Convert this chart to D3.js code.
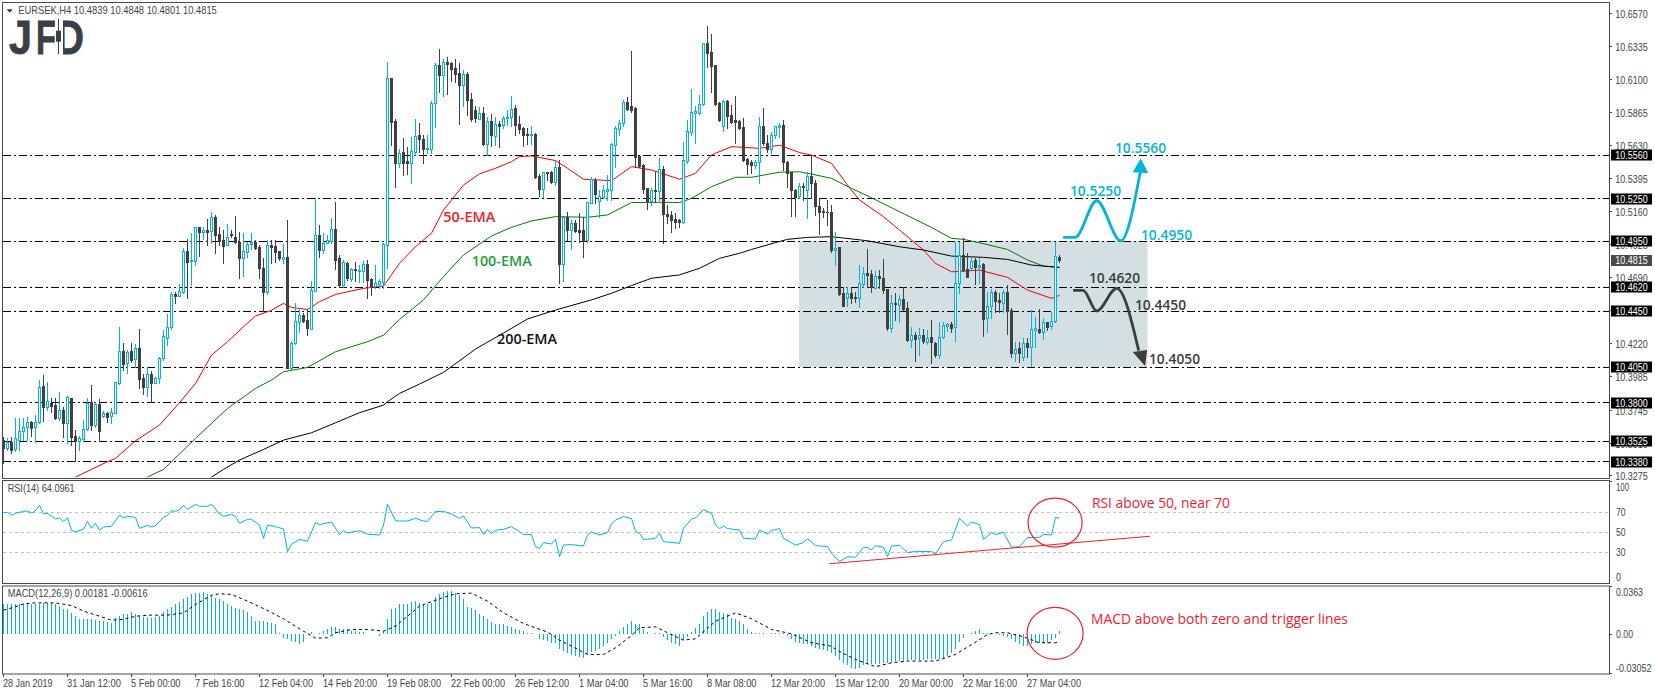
<!DOCTYPE html>
<html><head><meta charset="utf-8">
<style>html,body{margin:0;padding:0;background:#fff}svg{display:block}</style>
<script src="https://cdn.jsdelivr.net/npm/d3@7"></script></head><body><div id="c"></div>
<script>
// Prices and MACD values are in pips: price = 10 + pips / 10000, MACD = pips / 10000.
const OPEN=[3533,3476,3519,3467,3533,3595,3623,3664,3623,3659,3917,3766,3799,3782,3687,3744,3656,3832,3561,3528,3540,3609,3801,3640,3787,3706,3725,3706,3728,3941,4164,4079,4169,4112,4188,3972,3913,4000,3941,3972,4114,4262,4335,4572,4560,4589,4878,4805,4810,5047,5016,5028,5023,5123,4997,4957,4921,5000,4976,4943,4831,4874,4926,4943,4905,4757,4584,4921,4914,4878,4824,4836,4048,4221,4375,4423,4387,4326,4596,4992,4886,4938,4952,5033,4826,4639,4795,4679,4748,4741,4738,4784,4677,4632,4646,4660,4924,6108,5807,5503,5584,5523,5508,5587,5705,5677,5603,5608,5931,6201,6132,6223,6220,6185,6144,6061,6142,5959,5883,5822,5862,5639,5805,5701,5784,5777,5824,5831,5895,5784,5758,5712,5708,5712,5413,5321,5442,5442,5371,5477,4787,5119,5029,5081,5029,5029,4958,5224,5385,5235,5266,5309,5314,5637,5750,5793,5943,5912,5895,5556,5494,5326,5235,5314,5309,5463,5143,5136,5105,5100,5088,5523,5729,5862,5864,5926,6358,6294,6204,5933,5772,5947,5848,5812,5807,5760,5532,5511,5492,5515,5767,5651,5606,5705,5765,5777,5513,5441,5313,5270,5341,5313,5415,5365,5199,5166,5159,5159,4886,4905,4577,4546,4582,4554,4546,4644,4720,4713,4618,4701,4684,4606,4333,4506,4494,4537,4470,4245,4281,4262,4281,4228,4264,4226,4138,4264,4345,4359,4335,4648,4850,4748,4755,4815,4767,4784,4399,4489,4589,4530,4511,4584,4459,4155,4186,4126,4221,4198,4316,4323,4304,4375,4347,4380,4839];
const HIGH=[3557,3545,3552,3687,3687,3692,3694,3671,3711,3960,3993,3943,3830,3830,3872,3770,3849,3834,3604,3561,3675,3830,3925,3806,3825,3742,3735,3758,3943,4335,4221,4174,4221,4216,4323,4003,4050,4022,3984,4126,4316,4430,4589,4589,4644,4897,4962,5004,5047,5052,5047,5104,5156,5135,5052,5028,5071,5028,5128,5016,5004,4945,5004,4957,4921,4826,4957,4957,4957,4881,4928,5099,4238,4511,4470,4435,4463,4665,5253,5064,5004,4992,5111,5225,4850,4814,4803,4755,4803,4779,4807,4814,4689,4779,4677,4938,6225,6108,5819,5605,5682,5618,5693,5819,5788,5705,5705,5950,6215,6318,6244,6258,6227,6244,6215,6168,6156,6007,5912,5902,5907,5836,5855,5836,5807,5843,5883,5983,5919,5841,5765,5753,5769,5722,5428,5444,5444,5451,5523,5527,5124,5159,5100,5100,5152,5119,5231,5404,5397,5314,5349,5421,5651,5769,5812,5954,5978,6303,5902,5563,5499,5326,5326,5444,5539,5485,5207,5167,5148,5105,5658,5812,6030,5912,5990,6363,6481,6424,6204,5943,5954,5954,5919,5983,5812,5824,5539,5527,5527,5831,5895,5705,5729,5769,5793,5812,5517,5441,5318,5360,5365,5443,5562,5384,5254,5182,5242,5206,5016,4909,4625,4620,4613,4584,4779,4767,4893,4743,4739,4743,4819,4606,4565,4577,4565,4625,4518,4340,4304,4328,4321,4316,4387,4233,4375,4375,4368,4375,4945,4945,4969,4867,4826,4826,4826,4796,4584,4606,4601,4577,4601,4637,4470,4233,4233,4257,4257,4459,4411,4466,4399,4375,4447,4940,4848];
const LOW=[3367,3462,3443,3457,3462,3533,3533,3561,3519,3652,3671,3747,3735,3685,3675,3557,3509,3497,3386,3462,3528,3604,3604,3628,3528,3694,3664,3652,3723,3932,4031,4012,4091,4055,3901,3860,3846,3804,3936,3936,4103,4209,4321,4511,4558,4577,4546,4636,4779,4843,4964,4921,4933,4867,4921,4791,4921,4981,4938,4689,4703,4838,4890,4890,4684,4451,4572,4795,4803,4814,4791,4048,4038,4216,4304,4375,4280,4323,4591,4838,4862,4933,4933,4748,4625,4620,4672,4667,4667,4660,4660,4546,4565,4613,4613,4613,4755,5634,5337,5477,5421,5428,5366,5563,5587,5508,5575,5580,5760,6014,5983,5997,6092,6085,5784,5912,5848,5807,5800,5817,5634,5563,5627,5634,5622,5753,5777,5769,5705,5717,5627,5641,5641,5397,5271,5262,5385,5361,5349,4654,4668,4958,4894,5017,4946,4839,4946,5219,5219,5124,5254,5243,5243,5480,5705,5769,5883,5871,5480,5475,5290,5179,5207,5231,5243,4934,5081,5017,5041,5053,5076,5504,5705,5646,5855,5919,6192,6014,5919,5807,5736,5753,5788,5651,5746,5523,5428,5432,5468,5361,5634,5587,5575,5682,5693,5456,5334,5128,5128,5254,5242,5111,5254,5135,5000,5118,5064,4874,4779,4565,4487,4487,4506,4518,4482,4625,4625,4589,4613,4613,4577,4316,4304,4387,4375,4459,4240,4198,4098,4138,4221,4217,4084,4126,4114,4257,4309,4304,4240,4577,4739,4696,4743,4644,4648,4273,4300,4399,4447,4447,4447,4288,4126,4098,4091,4103,4126,4060,4198,4292,4250,4316,4323,4375,4801];
const CLOSE=[3474,3519,3462,3545,3597,3623,3659,3621,3659,3908,3770,3808,3777,3687,3744,3656,3837,3557,3528,3545,3609,3794,3637,3789,3599,3723,3699,3730,3943,4164,4074,4160,4105,4186,3970,3913,4000,3941,3972,4114,4273,4335,4572,4560,4594,4876,4803,4812,5047,5011,5028,5016,5118,4992,4952,4916,4976,4995,4943,4831,4876,4928,4943,4902,4755,4589,4921,4909,4874,4829,4836,4048,4221,4378,4421,4383,4328,4598,4992,4886,4938,4957,5033,4814,4636,4798,4684,4748,4741,4743,4784,4672,4629,4648,4663,4928,6108,5800,5503,5574,5508,5508,5591,5698,5674,5603,5610,5933,6201,6132,6223,6213,6175,6137,6061,6137,5954,5817,5824,5860,5639,5805,5705,5781,5772,5826,5836,5890,5777,5748,5705,5708,5712,5409,5321,5442,5437,5373,5477,4787,5119,5029,5076,5022,5017,4953,5226,5390,5283,5271,5314,5321,5641,5755,5788,5940,5888,5883,5551,5485,5321,5235,5314,5309,5461,5143,5129,5100,5086,5086,5525,5731,5867,5874,5926,6358,6287,6199,5926,5812,5947,5841,5800,5798,5758,5527,5501,5492,5515,5767,5646,5606,5705,5767,5774,5513,5434,5313,5265,5341,5332,5413,5360,5199,5159,5154,5154,4886,4900,4572,4487,4577,4546,4546,4648,4720,4708,4620,4701,4684,4601,4333,4506,4499,4537,4463,4245,4281,4250,4281,4240,4257,4228,4138,4264,4349,4357,4328,4648,4850,4743,4696,4810,4767,4779,4395,4489,4584,4525,4513,4584,4451,4155,4179,4150,4221,4198,4321,4328,4304,4373,4340,4380,4843,4815];
const EMA50_BARS=[18,22,26,28,33,39,44,48,52,56,60,63,67,70,72,76,79,83,90,95,99,103,107,110,115,119,123,127,129,132,138,141,145,152,157,162,169,173,177,182,189,194,199,202,207,211,214,220,224,230,233,237,244,251,256,262,264];
const EMA50=[3270,3324,3379,3402,3528,3640,3799,3936,4138,4233,4340,4416,4458,4506,4477,4463,4518,4570,4613,4629,4791,4910,5005,5171,5349,5428,5468,5515,5551,5556,5523,5468,5390,5380,5480,5456,5390,5432,5563,5622,5610,5632,5580,5562,5503,5348,5242,5123,5028,4886,4791,4731,4743,4691,4601,4542,4563];
const EMA100_BARS=[36,40,42,48,56,63,67,70,76,83,91,95,99,105,110,115,122,127,132,138,146,151,157,165,169,172,177,183,187,194,199,202,207,212,217,224,232,237,240,244,251,256,260,264];
const EMA100=[3270,3324,3379,3545,3758,3901,3960,4019,4050,4162,4233,4280,4392,4531,4697,4851,4986,5048,5093,5124,5119,5136,5224,5226,5224,5254,5337,5404,5404,5440,5443,5427,5396,5325,5258,5159,5047,4969,4962,4938,4890,4815,4772,4762];
const EMA200_BARS=[52,55,59,65,70,77,83,89,95,96,99,104,110,118,125,131,138,147,152,157,162,169,174,179,184,187,193,196,201,207,216,224,230,237,245,251,257,264];
const EMA200=[3270,3324,3391,3466,3533,3585,3656,3728,3782,3806,3865,3932,4015,4181,4295,4395,4459,4531,4578,4633,4685,4709,4756,4827,4863,4890,4939,4962,4976,4981,4952,4909,4886,4843,4834,4819,4779,4762];
const RSI_BARS=[0,1,2,3,5,6,7,8,9,10,11,13,14,15,16,17,18,20,21,22,23,24,25,27,29,30,31,33,34,36,37,38,40,41,42,43,44,45,46,48,49,51,52,54,55,57,58,59,61,62,64,65,66,68,70,71,72,74,76,78,79,82,84,85,86,89,91,94,95,96,98,99,101,103,105,106,108,110,112,114,115,117,119,120,121,122,123,125,127,129,130,132,133,134,135,137,138,139,140,142,145,146,147,149,151,152,153,155,157,158,159,160,161,163,164,165,169,170,172,173,175,177,178,179,180,181,184,185,188,189,191,192,194,195,198,200,201,203,206,207,209,211,213,215,216,217,218,220,221,222,224,226,228,232,233,235,237,239,241,242,244,245,247,248,250,252,254,256,259,260,262,263,264];
const RSI=[69.7,70,67,69,71,71.3,69.3,71.7,77,68.3,69,63.3,64.3,60.7,64.7,52,50.7,53,61,54,59,52,55.3,56,67.3,64.3,66,65,54,57,55.3,56.7,65,67,71.7,71,72.3,77,73,78,76,76,78,68.3,66,68,66,59,63,63,57.3,44,57.3,55.7,53.3,30.7,38,43,41,59.7,57.7,60.3,47.7,51.7,49.3,51.7,48,47.3,57.3,78,61.7,61.3,61.3,64,61.3,61,70.7,71,68.3,64,66.3,54.3,54.7,48,53,49,52,53,55.7,50.7,47.7,47.7,35.7,33.7,39.7,38.3,43,25.7,37.3,37.7,36.3,47.3,50.3,47.3,49.7,58.3,62.3,65.7,63.7,51,49,43,43,44,49,40.7,39,54,63.3,64.3,72.7,69,57.3,53.7,56.3,53.7,52.3,44,43.3,52.3,48.3,51.7,53.7,44,37.3,39.7,43.7,36.7,35.7,29,20.6,25.6,25,35,34.7,32.3,36.7,35,25.7,36.3,37,29.7,31,30.7,28.3,40.7,42.3,64,56.3,60.3,57.7,43,49.7,47.7,50,35,35.7,44.7,45,48,47.3,65,64.1];
const MACD_HIST=[223,230,230,230,230,230,228,230,230,230,235,235,235,223,210,190,185,159,139,114,114,109,109,106,96,94,89,83,121,134,154,154,164,147,134,129,126,121,126,134,164,185,205,223,240,261,278,299,311,311,316,299,286,271,261,248,230,210,197,185,180,164,139,101,101,101,91,83,71,8,-30,-38,-56,-63,-81,-63,-5,15,-5,3,20,33,53,53,38,38,33,20,20,13,13,0,-3,-3,-13,20,114,185,197,223,223,223,240,248,235,230,223,235,281,299,316,324,324,311,296,261,205,197,180,147,134,109,89,78,71,71,63,53,38,28,20,8,3,0,-38,-48,-56,-68,-68,-119,-132,-149,-164,-170,-175,-185,-157,-139,-132,-114,-94,-73,-38,-13,20,53,78,101,78,71,38,13,0,3,3,-23,-48,-68,-76,-89,-48,-23,13,46,78,134,167,190,185,164,159,147,121,109,101,71,38,13,8,8,3,-5,3,8,8,3,-13,-43,-63,-68,-81,-81,-94,-106,-114,-124,-132,-149,-170,-200,-220,-240,-258,-266,-258,-240,-233,-233,-230,-228,-225,-220,-215,-210,-207,-205,-200,-200,-200,-200,-197,-195,-195,-195,-190,-182,-170,-149,-119,-63,-30,-5,3,20,33,8,3,0,-5,-8,-13,-23,-43,-63,-81,-89,-94,-81,-73,-73,-73,-68,-48,-30,18];
const SIGNAL_BARS=[0,3,5,8,13,17,20,24,27,30,33,37,41,45,48,52,54,57,61,66,70,75,78,81,83,87,91,95,98,104,109,113,117,121,125,130,136,137,139,143,146,150,153,157,159,163,166,170,173,178,183,187,192,197,202,207,208,213,218,222,226,233,238,243,246,248,251,255,259,263,264];
const SIGNAL=[180,205,228,235,235,215,172,134,104,109,134,142,142,159,223,293,304,299,248,177,114,20,-33,-30,8,33,33,20,58,210,266,304,309,248,159,78,13,-5,-48,-109,-157,-157,-106,-13,46,53,8,-48,-38,96,159,114,33,0,-68,-94,-119,-195,-250,-220,-207,-207,-157,-63,-5,8,8,-23,-68,-68,-62];
const LEVELS=[5560,5250,4950,4620,4450,4050,3800,3525,3380];
const PRICE_TICKS=[6570,6335,6100,5865,5630,5395,5160,4925,4690,4455,4220,3985,3745,3510,3275];
const LAST_PRICE=4815;
const RSI_TICKS=[70,50,30];
const TIME_LABELS=["28 Jan 2019","31 Jan 12:00","5 Feb 00:00","7 Feb 16:00","12 Feb 04:00","14 Feb 20:00","19 Feb 08:00","22 Feb 00:00","26 Feb 12:00","1 Mar 04:00","5 Mar 16:00","8 Mar 08:00","12 Mar 20:00","15 Mar 12:00","20 Mar 00:00","22 Mar 16:00","27 Mar 04:00"];
const BOX_BARS=[198.9,286], BOX_PRICES=[4950,4050];
const BLUE_ARROW_BARS=[264.9,267.9,273.3,279.3,284.2], BLUE_ARROW_PRICES=[4976,4976,5237,4952,5441];
const BLUE_HEAD_BARS=[282.3,284.3,286.2], BLUE_HEAD_PRICES=[5439,5539,5432];
const DARK_ARROW_BARS=[267.4,269.9,273.3,278.3,283.8], DARK_ARROW_PRICES=[4599,4599,4452,4613,4170];
const DARK_HEAD_BARS=[282.3,285.4,285.9], DARK_HEAD_PRICES=[4160,4060,4174];
const RSI_TREND_BARS=[206.4,286.6], RSI_TREND=[18.6,46];

const W=1655,H=695;
const CYAN="#00b4dc",DARK="#404040",FRAME="#4a4a4a",RED="#f0202e",TXT="#3c4650";
const svg=d3.select("#c").append("svg").attr("width",W).attr("height",H);
const N=OPEN.length;
const x=d3.scaleLinear().domain([0,264]).range([3.5,1059.5]);
const yP=d3.scaleLinear().domain([3275,6570]).range([476.3,13.5]);
const yR=d3.scaleLinear().domain([0,100]).range([582.3,482.3]);
const yM=d3.scaleLinear().domain([-305.2,363]).range([674,586]);
const sn=v=>Math.round(v-0.5)+0.5;

const defs=svg.append("defs");
defs.append("clipPath").attr("id","cp").append("rect").attr("x",3).attr("y",3).attr("width",1606).attr("height",475);
defs.append("clipPath").attr("id","cr").append("rect").attr("x",3).attr("y",481).attr("width",1606).attr("height",102);
defs.append("clipPath").attr("id","cm").append("rect").attr("x",3).attr("y",586).attr("width",1606).attr("height",88);

// ---------- price panel ----------
const gP=svg.append("g").attr("clip-path","url(#cp)");
gP.append("rect").attr("x",x(BOX_BARS[0])).attr("width",x(BOX_BARS[1])-x(BOX_BARS[0]))
  .attr("y",yP(BOX_PRICES[0])).attr("height",yP(BOX_PRICES[1])-yP(BOX_PRICES[0])).attr("fill","#d3dfe3");
gP.selectAll("line.lvl").data(LEVELS).join("line").attr("x1",3).attr("x2",1609)
  .attr("y1",d=>sn(yP(d))).attr("y2",d=>sn(yP(d))).attr("stroke","#000").attr("stroke-width",1).attr("stroke-dasharray","8,3,2,3");
const emaLine=(bars)=>d3.line().x((d,i)=>x(bars[i])).y(d=>yP(d));
[[EMA50_BARS,EMA50,"#f00000"],[EMA100_BARS,EMA100,"#007a00"],[EMA200_BARS,EMA200,"#000"]].forEach(([b,v,c])=>{
  gP.append("path").attr("d",emaLine(b)(v)).attr("fill","none").attr("stroke",c).attr("stroke-width",1);
});
const idx=d3.range(N);
gP.selectAll("line.w").data(idx).join("line").attr("x1",i=>x(i)).attr("x2",i=>x(i))
  .attr("y1",i=>Math.round(yP(HIGH[i]))).attr("y2",i=>Math.round(yP(LOW[i]))+1)
  .attr("stroke",i=>CLOSE[i]>=OPEN[i]?CYAN:DARK).attr("stroke-width",1);
gP.selectAll("rect.b").data(idx).join("rect").attr("shape-rendering","crispEdges")
  .attr("x",i=>CLOSE[i]>=OPEN[i]?x(i)-1:x(i)-1.5)
  .attr("width",i=>CLOSE[i]>=OPEN[i]?2:3)
  .attr("y",i=>{const t=Math.round(yP(Math.max(OPEN[i],CLOSE[i])));return CLOSE[i]>=OPEN[i]?t+0.5:t;})
  .attr("height",i=>{const t=Math.round(yP(Math.max(OPEN[i],CLOSE[i]))),b=Math.round(yP(Math.min(OPEN[i],CLOSE[i])));return Math.max(1,b-t+(CLOSE[i]>=OPEN[i]?0:1));})
  .attr("fill",i=>CLOSE[i]>=OPEN[i]?"#fff":DARK)
  .attr("stroke",i=>CLOSE[i]>=OPEN[i]?CYAN:"none").attr("stroke-width",1);

// annotations
const arrowLine=d3.line().x(d=>x(d[0])).y(d=>yP(d[1])).curve(d3.curveMonotoneX);
const zip=(a,b)=>a.map((v,i)=>[v,b[i]]);
gP.append("path").attr("d",arrowLine(zip(BLUE_ARROW_BARS,BLUE_ARROW_PRICES))).attr("fill","none").attr("stroke",CYAN).attr("stroke-width",2.8);
gP.append("path").attr("d","M"+zip(BLUE_HEAD_BARS,BLUE_HEAD_PRICES).map(d=>[x(d[0]),yP(d[1])].join(",")).join("L")+"Z").attr("fill",CYAN);
gP.append("path").attr("d",arrowLine(zip(DARK_ARROW_BARS,DARK_ARROW_PRICES))).attr("fill","none").attr("stroke","#3c3c3c").attr("stroke-width",2.8);
gP.append("path").attr("d","M"+zip(DARK_HEAD_BARS,DARK_HEAD_PRICES).map(d=>[x(d[0]),yP(d[1])].join(",")).join("L")+"Z").attr("fill","#3c3c3c");

const note=(t,px,py,c,w)=>svg.append("text").text(t).attr("x",px).attr("y",py).attr("fill",c)
  .attr("font-family","'Open Sans'").attr("font-size",13.5).attr("font-weight",600).attr("textLength",w).attr("lengthAdjust","spacingAndGlyphs");
note("10.5560",1115,152.7,CYAN,51);
note("10.5250",1070,195.7,CYAN,51);
note("10.4950",1141,239.5,CYAN,51);
note("10.4620",1089,283,"#3c3c3c",51);
note("10.4450",1135,310,"#3c3c3c",51);
note("10.4050",1149,364,"#3c3c3c",51);
note("50-EMA",443.3,222.3,"#ed1c2e",52);
note("100-EMA",471.7,265.7,"#22a03c",60);
note("200-EMA",497,343.5,"#111",60);

// ---------- RSI panel ----------
const gR=svg.append("g").attr("clip-path","url(#cr)");
gR.selectAll("line.l").data(RSI_TICKS).join("line").attr("x1",3).attr("x2",1609)
  .attr("y1",d=>sn(yR(d))).attr("y2",d=>sn(yR(d))).attr("stroke","#c0c0c0").attr("stroke-dasharray","3,3");
gR.append("path").attr("d",d3.line().x((d,i)=>x(RSI_BARS[i])).y(d=>yR(d))(RSI)).attr("fill","none").attr("stroke",CYAN).attr("stroke-width",1);
gR.append("line").attr("x1",x(RSI_TREND_BARS[0])).attr("x2",x(RSI_TREND_BARS[1])).attr("y1",yR(RSI_TREND[0])).attr("y2",yR(RSI_TREND[1])).attr("stroke",RED).attr("stroke-width",1.1);
const ring=(b,yy,rx,ry,g)=>g.append("ellipse").attr("cx",x(b)).attr("cy",yy).attr("rx",rx).attr("ry",ry).attr("fill","none").attr("stroke",RED).attr("stroke-width",1.2);
ring(262.9,522.7,27,24.5,gR);

// ---------- MACD panel ----------
const gM=svg.append("g").attr("clip-path","url(#cm)");
gM.selectAll("line.h").data(idx).join("line").attr("x1",i=>x(i)).attr("x2",i=>x(i))
  .attr("y1",i=>Math.round(yM(0))).attr("y2",i=>Math.round(yM(MACD_HIST[i])))
  .attr("stroke",CYAN).attr("stroke-width",1);
gM.append("path").attr("d",d3.line().x((d,i)=>x(SIGNAL_BARS[i])).y(d=>yM(d))(SIGNAL)).attr("fill","none").attr("stroke","#000").attr("stroke-width",1).attr("stroke-dasharray","3,3");
ring(262.9,633.3,28,26,gM);

svg.append("text").text("RSI above 50, near 70").attr("x",1092).attr("y",508).attr("fill",RED).attr("font-family","'Open Sans'").attr("font-size",14).attr("textLength",138).attr("lengthAdjust","spacingAndGlyphs");
svg.append("text").text("MACD above both zero and trigger lines").attr("x",1091).attr("y",624).attr("fill",RED).attr("font-family","'Open Sans'").attr("font-size",14).attr("textLength",257).attr("lengthAdjust","spacingAndGlyphs");

// ---------- frames ----------
[[2.5,2.5,478.5],[2.5,480.5,583.5],[2.5,586,674]].forEach(([l,t,b])=>{
  svg.append("rect").attr("x",l).attr("y",t).attr("width",1609.5-l).attr("height",b-t).attr("fill","none").attr("stroke",FRAME).attr("stroke-width",1);
});
const axisTxt=(g,t,px,py,w,fill)=>g.append("text").text(t).attr("x",px).attr("y",py).attr("fill",fill||TXT)
  .attr("font-family","'Liberation Sans'").attr("font-size",11).attr("textLength",w).attr("lengthAdjust","spacingAndGlyphs");

// ---------- right axis ----------
const gA=svg.append("g");
PRICE_TICKS.forEach(p=>{
  const yy=sn(yP(p));
  gA.append("line").attr("x1",1610).attr("x2",1612).attr("y1",Math.min(yy,475.5)).attr("y2",Math.min(yy,475.5)).attr("stroke",FRAME);
  axisTxt(gA,(10+p/1e4).toFixed(4),1615.3,Math.min(yy,475.5)+4,32.5);
});
LEVELS.forEach(p=>{
  const yy=yP(p);
  gA.append("rect").attr("x",1611).attr("y",Math.round(yy)-5.5).attr("width",41).attr("height",11).attr("fill","#000");
  axisTxt(gA,(10+p/1e4).toFixed(4),1615.3,Math.round(yy)+3.5,32.5,"#fff");
});
gA.append("rect").attr("x",1611).attr("y",Math.round(yP(LAST_PRICE))-5).attr("width",41).attr("height",11).attr("fill","#4a4a4a");
axisTxt(gA,(10+LAST_PRICE/1e4).toFixed(4),1615.3,Math.round(yP(LAST_PRICE))+4,32.5,"#fff");

[[100,487.3,"100",13],[70,512.3,"70",9.5],[50,532.3,"50",9.5],[30,552.3,"30",9.5],[0,576.7,"0",5]].forEach(([v,yy,t,w])=>axisTxt(gA,t,1616,yy+4,w));
gA.append("line").attr("x1",1610).attr("x2",1612).attr("y1",481.5).attr("y2",481.5).attr("stroke",FRAME);
[[592.3,"0.0363",27],[634,"0.00",17],[667.7,"-0.03052",35.5]].forEach(([yy,t,w])=>axisTxt(gA,t,1616,yy+4,w));
[586.5,634.5,673.5].forEach(yy=>gA.append("line").attr("x1",1610).attr("x2",1612).attr("y1",yy).attr("y2",yy).attr("stroke",FRAME));

// ---------- time axis ----------
TIME_LABELS.forEach((t,i)=>{
  const b=i*16,px=sn(x(b));
  gA.append("line").attr("x1",px).attr("x2",px).attr("y1",674).attr("y2",677).attr("stroke",FRAME);
  axisTxt(gA,t,px-0.5,687,t.length*54/12);
});

// ---------- titles ----------
gA.append("path").attr("d",d3.line()([[6.7,9.3],[12.7,9.3],[9.7,12.7]])+"Z").attr("fill","#333");
axisTxt(gA,"EURSEK,H4  10.4839 10.4848 10.4801 10.4815",18.3,14,198.5);
axisTxt(gA,"RSI(14) 64.0961",7.7,492,67);
axisTxt(gA,"MACD(12,26,9) 0.00181 -0.00616",7.7,597,140);

// ---------- logo ----------
const logo=svg.append("g");
const letter=(t,px,w)=>logo.append("text").text(t).attr("x",px).attr("y",54).attr("fill","#3a3f47").attr("stroke","#3a3f47").attr("stroke-width",0.8)
  .attr("font-family","'Liberation Sans'").attr("font-weight",700).attr("font-size",48).attr("textLength",w).attr("lengthAdjust","spacingAndGlyphs");
letter("J",9,23);
letter("F",36,20);
letter("D",56,28);
logo.append("rect").attr("x",55).attr("y",18).attr("width",8).attr("height",37).attr("fill","#fff");
logo.append("line").attr("x1",58.5).attr("x2",58.5).attr("y1",19).attr("y2",54).attr("stroke","#3a3f47");
logo.append("rect").attr("x",56).attr("y",30.7).attr("width",5).attr("height",11).attr("fill","#3a3f47");
</script></body></html>
